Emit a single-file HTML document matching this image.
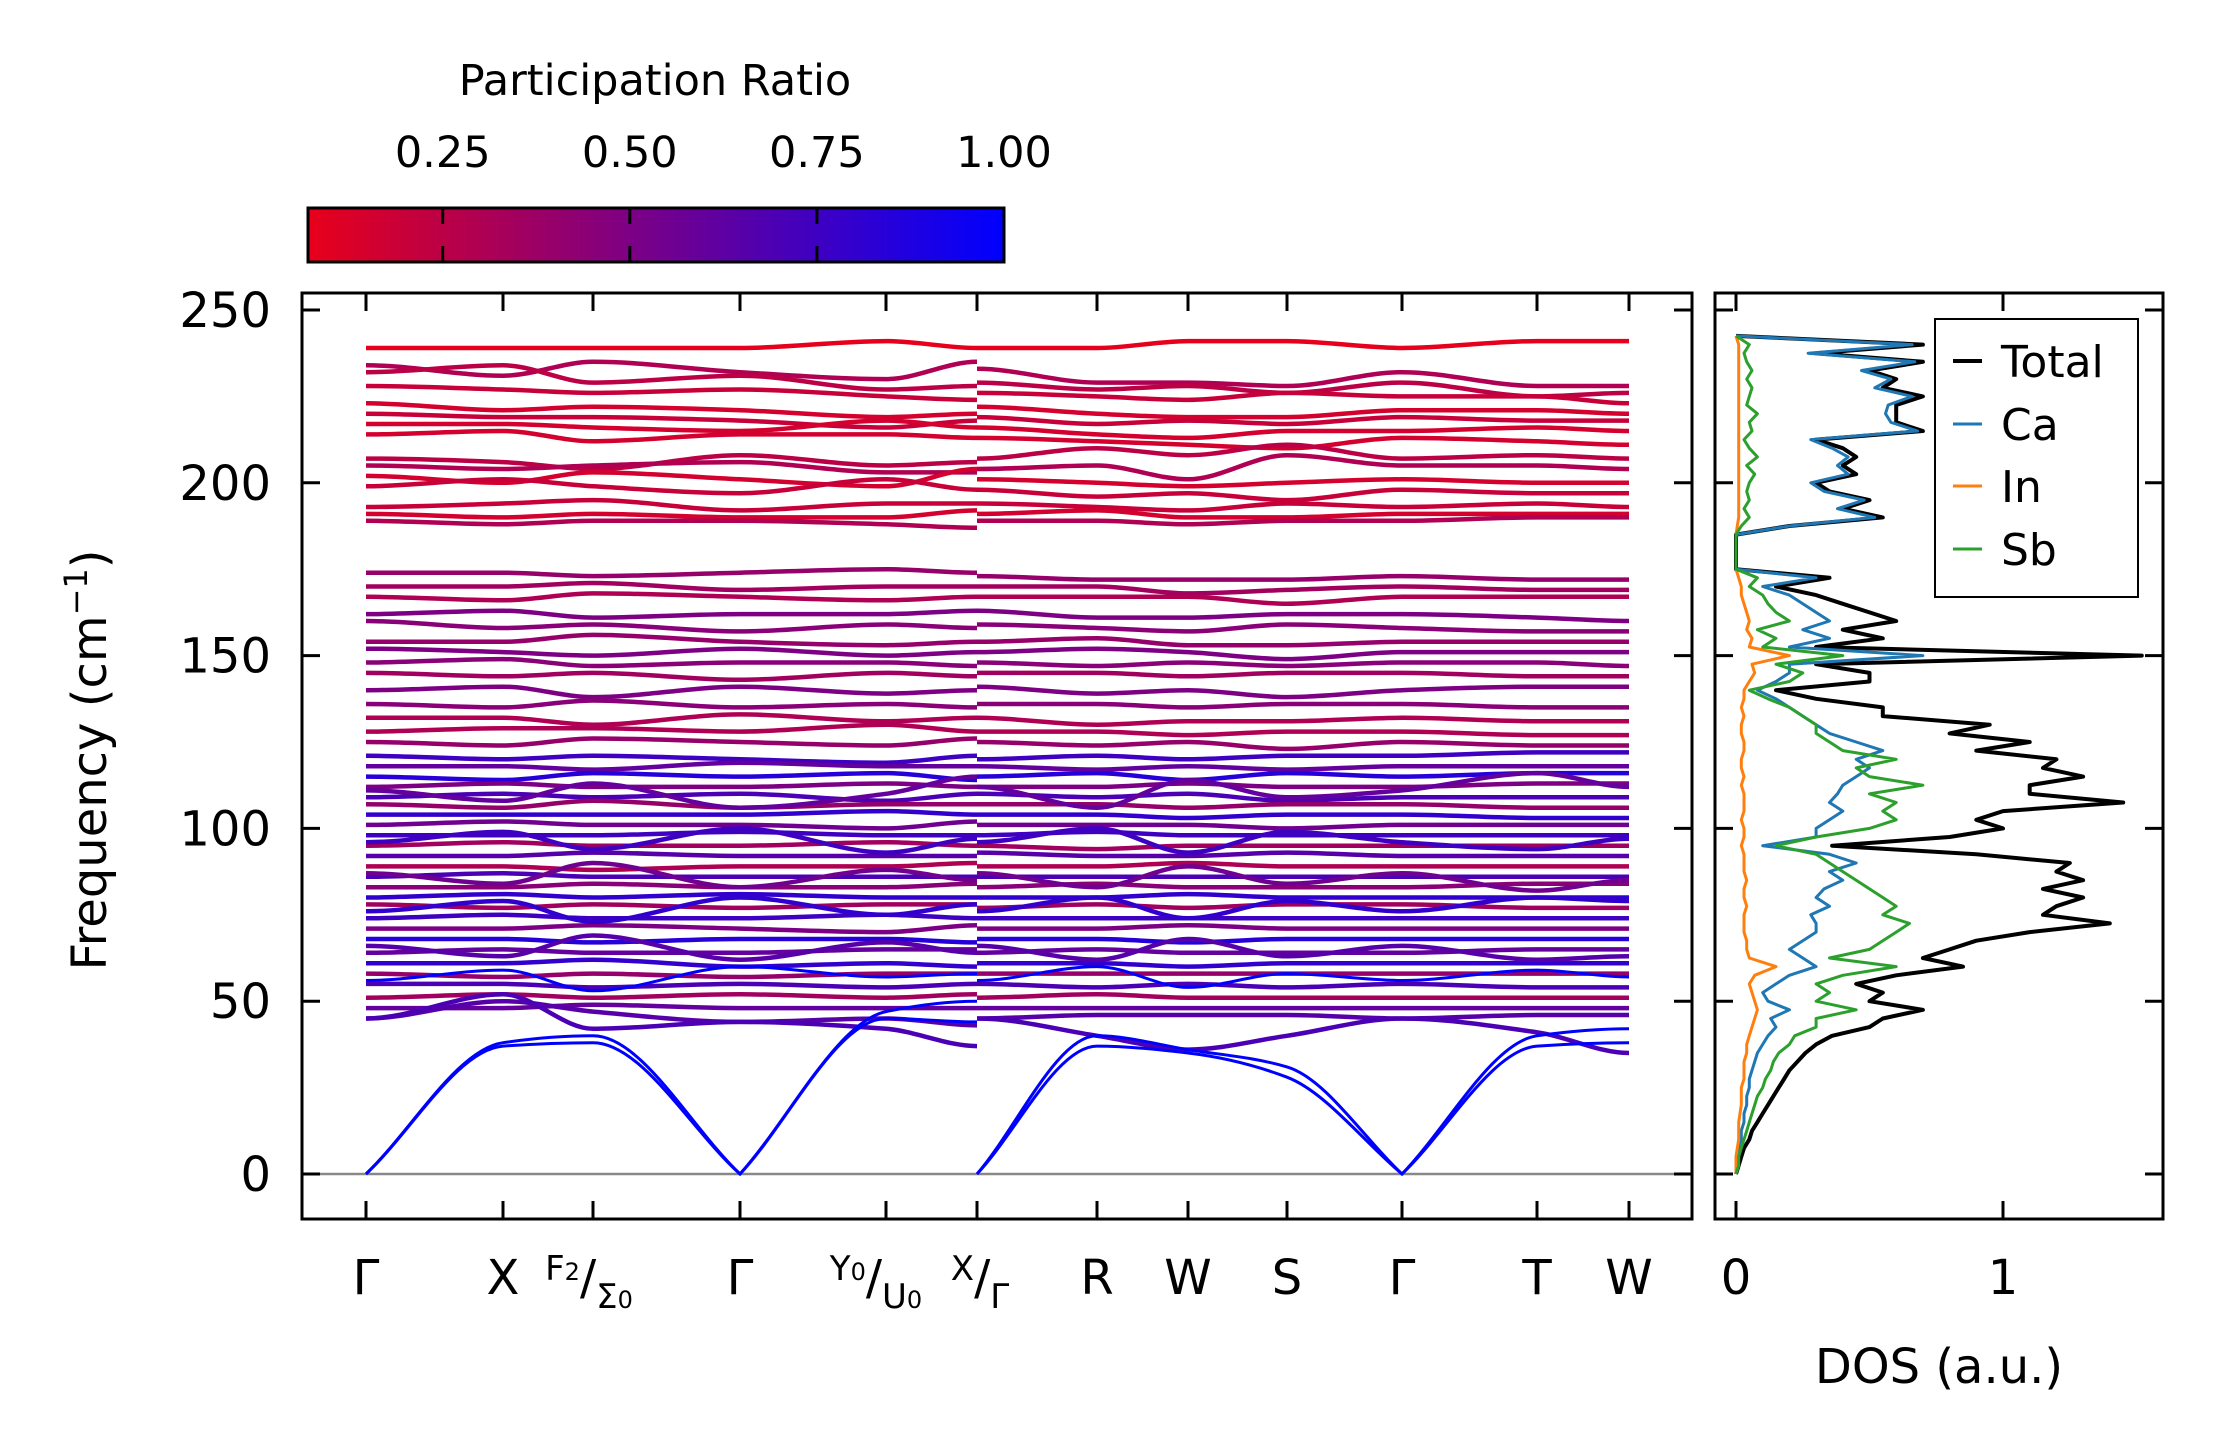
<!DOCTYPE html>
<html><head><meta charset="utf-8"><title>Phonon bands and DOS</title>
<style>
html,body{margin:0;padding:0;background:#fff;}
svg{display:block;font-family:"DejaVu Sans","Liberation Sans",sans-serif;}
</style></head>
<body>
<svg id="chart" width="2222" height="1455" viewBox="0 0 2222 1455" xmlns="http://www.w3.org/2000/svg">
<defs>
<linearGradient id="cbgrad" x1="0" x2="1" y1="0" y2="0">
<stop offset="0" stop-color="rgb(232,0,26)"/>
<stop offset="1" stop-color="rgb(0,0,255)"/>
</linearGradient>
<clipPath id="mainclip"><rect x="302" y="293" width="1390" height="926"/></clipPath>
<clipPath id="dosclip"><rect x="1715" y="293" width="448" height="926"/></clipPath>
</defs>
<g id="colorbar">
<text x="655" y="95" font-size="43" text-anchor="middle">Participation Ratio</text>
<rect x="308" y="208" width="696" height="54" fill="url(#cbgrad)" stroke="#000" stroke-width="3"/>
</g>
<g id="bands" clip-path="url(#mainclip)"></g>
<g id="dos" clip-path="url(#dosclip)"></g>
<g id="axes"></g>
<text transform="translate(106,760) rotate(-90)" font-size="48" text-anchor="middle">Frequency (cm<tspan baseline-shift="super" font-size="32">−1</tspan>)</text>
<text x="1939" y="1383" font-size="48" text-anchor="middle">DOS (a.u.)</text>
<g id="legend">
<rect x="1935" y="319" width="203" height="278" fill="#fff" stroke="#000" stroke-width="2"/>
</g>
</svg>
<script>
const NS="http://www.w3.org/2000/svg";
// ---- data ----
const kLabels=["Γ","X","F2/Σ0","Γ","Y0/U0","X/Γ","R","W","S","Γ","T","W"];
const kPos=[0,137,227,374,520,611,611,731,822,921,1036,1171,1263];
const segments=[[0,5],[6,12]];
const yTicks=[0,50,100,150,200,250];
const cbTicks=[0.25,0.5,0.75,1.0];
const cbTickLabels=["0.25","0.50","0.75","1.00"];
const bandPR=[0.08,0.3,0.25,0.2,0.15,0.2,0.15,0.15,0.25,0.3,0.15,0.2,0.2,0.15,0.3,
0.4,0.35,0.3,0.5,0.45,0.4,0.5,0.45,0.35,0.5,0.45,0.3,0.3,0.4,
0.75,0.6,0.85,0.5,0.7,0.4,0.8,0.55,0.75,0.35,0.65,0.3,0.7,0.45,0.8,0.35,0.75,0.5,0.85,0.6,0.8,0.4,0.7,0.35,0.6,0.65,
0.7,0.6,0.75,0.55,0.8,0.65,
1,1,1];
const bandFreq=[
[239,239,239,239,241,239,239,239,241,241,239,241,241],
[234,231,235,232,230,235,233,229,229,228,232,228,228],
[232,234,229,231,227,228,229,227,228,226,229,225,226],
[228,227,226,227,225,224,226,225,224,226,225,225,223],
[223,221,222,221,219,220,222,220,219,219,221,221,220],
[220,219,219,218,216,218,219,217,218,217,219,218,218],
[217,217,216,215,218,216,216,214,213,215,215,216,215],
[214,215,212,214,214,213,213,212,211,210,213,212,211],
[207,206,204,208,205,206,207,210,208,211,207,208,207],
[205,204,205,206,203,203,204,205,201,208,205,205,204],
[202,200,203,201,199,204,201,200,199,200,201,200,200],
[199,201,199,197,201,198,198,196,197,195,198,197,197],
[193,194,195,192,194,194,194,193,192,194,193,194,193],
[191,190,191,190,190,192,191,192,190,190,191,191,191],
[189,188,189,189,188,187,189,189,188,189,189,190,190],
[174,174,173,174,175,174,173,172,172,172,173,172,172],
[170,170,171,169,170,170,170,170,168,169,170,169,169],
[167,166,168,167,166,167,167,167,167,165,167,167,167],
[162,163,161,162,162,163,163,161,161,162,162,161,160],
[160,158,159,157,159,158,159,158,157,159,158,157,157],
[154,154,156,154,153,154,154,155,153,153,154,154,154],
[152,151,150,152,150,151,151,152,151,149,151,151,151],
[148,149,147,148,148,147,148,147,148,147,148,148,147],
[145,144,145,143,145,144,145,145,144,145,145,144,144],
[140,141,138,141,139,140,141,139,140,138,140,141,141],
[136,135,137,135,136,135,136,136,135,136,136,135,135],
[132,132,130,133,131,132,132,130,131,131,132,131,131],
[128,129,129,128,130,128,128,128,127,128,128,127,127],
[125,124,126,125,124,126,125,124,125,123,125,124,124],
[121,120,121,120,119,121,120,121,120,121,121,122,122],
[118,118,117,119,118,118,118,117,118,117,118,118,118],
[115,114,116,115,116,114,115,116,114,116,115,116,116],
[112,113,112,112,113,112,112,112,113,112,112,113,113],
[109,110,109,110,108,110,110,109,110,108,109,109,109],
[107,106,108,106,107,107,107,107,106,107,107,106,106],
[104,104,104,104,105,104,104,104,103,104,104,103,103],
[101,102,101,101,100,102,101,101,101,100,101,101,101],
[98,98,98,99,98,98,98,99,98,98,98,98,98],
[95,96,95,95,96,95,95,94,95,95,95,95,95],
[92,92,93,92,92,92,93,92,92,93,92,92,92],
[89,89,88,89,89,90,89,89,90,89,89,89,89],
[86,87,86,86,86,86,86,86,86,86,86,86,86],
[83,83,84,83,83,84,83,84,83,83,83,84,84],
[80,81,80,81,80,80,80,80,81,80,80,80,80],
[78,77,78,77,78,78,77,78,77,78,78,77,77],
[74,75,74,74,75,74,74,74,74,74,74,74,74],
[71,71,72,71,70,72,71,71,72,71,71,71,71],
[68,68,67,68,68,67,68,68,67,68,68,68,68],
[64,65,64,64,65,65,64,65,64,64,64,65,65],
[61,61,62,60,61,60,61,61,60,61,61,61,61],
[58,57,58,57,58,58,58,58,58,58,58,58,58],
[55,55,54,55,54,55,55,54,55,54,55,54,54],
[51,52,51,52,51,52,51,52,51,51,51,51,51],
[48,48,49,48,48,48,48,48,48,48,48,48,48],
[45,50,47,44,45,43,45,46,46,46,45,46,46],
[45,52,42,44,42,37,45,40,36,40,45,41,35],
[111,108,113,106,110,115,112,106,114,109,111,116,112],
[96,99,94,100,93,97,96,100,93,99,96,94,97],
[87,84,90,83,88,85,87,83,89,84,87,82,85],
[76,79,73,80,75,78,76,80,74,79,76,80,79],
[66,63,69,62,67,64,66,62,68,63,66,62,63],
[56,59,53,60,57,58,56,60,54,58,56,59,57],
[0,38,40,0,47,50,0,40,36,31,0,40,42],
[0,37,38,0,45,44,0,37,35,28,0,37,38],
[0,37,37,0,43,46,0,35,36,30,0,38,40]
];
// DOS: frequency grid 0..242.5 step 2.5
const dosFreqStep=2.5;
const dosTotal=[0,0.01,0.02,0.03,0.05,0.06,0.08,0.1,0.12,0.14,0.16,0.18,0.2,0.23,0.26,0.3,0.36,0.5,0.55,0.7,
0.5,0.55,0.45,0.6,0.85,0.7,0.8,0.9,1.1,1.4,1.15,1.2,1.3,1.15,1.3,1.2,1.25,0.9,0.36,0.8,
1.0,0.9,1.0,1.45,1.1,1.1,1.3,1.15,1.2,0.9,1.1,0.8,0.95,0.55,0.55,0.3,0.15,0.5,0.5,0.3,
1.52,0.3,0.55,0.4,0.6,0.5,0.4,0.3,0.15,0.35,0,0,0,0,0,0.2,0.55,0.4,0.5,0.35,
0.3,0.45,0.4,0.45,0.4,0.3,0.7,0.6,0.6,0.6,0.7,0.55,0.6,0.5,0.7,0.3,0.7,0];
const dosCa=[0,0,0.01,0.01,0.02,0.02,0.03,0.03,0.04,0.04,0.05,0.05,0.06,0.07,0.08,0.1,0.12,0.15,0.13,0.2,
0.12,0.1,0.15,0.2,0.3,0.25,0.2,0.25,0.3,0.3,0.28,0.35,0.3,0.33,0.4,0.35,0.45,0.35,0.1,0.3,
0.3,0.35,0.4,0.35,0.38,0.4,0.45,0.5,0.45,0.55,0.45,0.35,0.3,0.25,0.2,0.15,0.08,0.15,0.2,0.2,
0.7,0.2,0.35,0.25,0.35,0.3,0.25,0.2,0.1,0.3,0,0,0,0,0,0.2,0.52,0.38,0.48,0.33,
0.28,0.42,0.38,0.42,0.36,0.28,0.68,0.58,0.56,0.57,0.66,0.52,0.58,0.47,0.67,0.27,0.66,0];
const dosIn=[0,0,0,0.005,0.01,0.01,0.01,0.015,0.02,0.02,0.02,0.03,0.03,0.03,0.04,0.04,0.05,0.06,0.07,0.08,
0.07,0.06,0.05,0.07,0.15,0.05,0.04,0.04,0.03,0.03,0.03,0.04,0.03,0.03,0.04,0.03,0.03,0.03,0.02,0.03,
0.03,0.02,0.03,0.03,0.03,0.02,0.03,0.02,0.02,0.03,0.03,0.02,0.02,0.03,0.02,0.03,0.03,0.05,0.07,0.06,
0.2,0.05,0.06,0.04,0.05,0.04,0.03,0.02,0.02,0.01,0,0,0,0,0,0.005,0.01,0.01,0.01,0.01,
0.01,0.01,0.01,0.01,0.01,0.01,0.01,0.01,0.01,0.01,0.01,0.01,0.01,0.01,0.01,0.01,0.01,0];
const dosSb=[0,0.01,0.01,0.02,0.03,0.04,0.05,0.06,0.07,0.08,0.1,0.11,0.13,0.14,0.16,0.2,0.22,0.3,0.3,0.45,
0.3,0.35,0.3,0.4,0.6,0.35,0.5,0.55,0.6,0.65,0.55,0.6,0.55,0.5,0.45,0.4,0.35,0.3,0.15,0.3,
0.5,0.6,0.55,0.6,0.5,0.7,0.5,0.45,0.6,0.4,0.35,0.3,0.3,0.25,0.2,0.12,0.05,0.2,0.25,0.15,
0.4,0.1,0.15,0.08,0.2,0.15,0.12,0.1,0.05,0.08,0,0,0,0,0,0.02,0.05,0.03,0.05,0.04,
0.05,0.07,0.04,0.08,0.05,0.03,0.06,0.05,0.08,0.04,0.05,0.06,0.04,0.06,0.04,0.03,0.05,0];
const dosTicks=[0,1];
// ---- scales ----
const X0=366,X1=1629;
const kx=k=>X0+(k/kPos[kPos.length-1])*(X1-X0);
const fy=f=>1174-f*(864/250);
const dx=v=>1736+v*267;
const cbx=v=>308+(v-0.07)/(1-0.07)*696;
function prColor(p){const t=Math.max(0,Math.min(1,(p-0.07)/0.93));
return `rgb(${Math.round(232*(1-t))},0,${Math.round(26+229*t)})`;}
function el(tag,attrs,parent){const e=document.createElementNS(NS,tag);for(const k in attrs)e.setAttribute(k,attrs[k]);parent.appendChild(e);return e;}
// monotone cubic path with cusps at zero-frequency nodes
function monoPath(xs,vals){const ys=vals.map(fy);const n=xs.length;const d=[];
for(let i=0;i<n-1;i++)d.push((ys[i+1]-ys[i])/(xs[i+1]-xs[i]));
const mIn=[],mOut=[];
for(let i=0;i<n;i++){let m;
 if(i==0||i==n-1)m=0;else m=d[i-1]*d[i]<=0?0:2/(1/d[i-1]+1/d[i]);
 mIn.push(m);mOut.push(m);
 if(vals[i]===0){if(i<n-1)mOut[i]=d[i];if(i>0)mIn[i]=d[i-1];}
}
let p=`M${xs[0].toFixed(1)},${ys[0].toFixed(1)}`;
for(let i=0;i<n-1;i++){const h=xs[i+1]-xs[i];
p+=`C${(xs[i]+h/3).toFixed(1)},${(ys[i]+mOut[i]*h/3).toFixed(1)} ${(xs[i+1]-h/3).toFixed(1)},${(ys[i+1]-mIn[i+1]*h/3).toFixed(1)} ${xs[i+1].toFixed(1)},${ys[i+1].toFixed(1)}`;}
return p;}
// ---- zero line ----
const bandsG=document.getElementById('bands');
const zl=el('line',{x1:302,x2:1692,y1:fy(0),y2:fy(0),stroke:'#888','stroke-width':2.5},bandsG);


// ---- bands ----
bandFreq.forEach((b,bi)=>{
 const col=prColor(bandPR[bi]);
 segments.forEach(([a,c])=>{
  const xs=[],vs=[];
  for(let i=a;i<=c;i++){xs.push(kx(kPos[i]));vs.push(b[i]);}
  const p=el('path',{d:monoPath(xs,vs),fill:'none',stroke:col,'stroke-width':bandPR[bi]>=1?3:4.5},bandsG);
  
  
 });
});
// ---- DOS ----
const dosG=document.getElementById('dos');
function dosLine(arr,color,w,name){const pts=arr.map((v,i)=>`${dx(v).toFixed(1)},${fy(i*dosFreqStep).toFixed(1)}`).join(' ');
 const l=el('polyline',{points:pts,fill:'none',stroke:color,'stroke-width':w,'stroke-linejoin':'round'},dosG);
 
 }
dosLine(dosTotal,'#000',4,'dos-total-line');
dosLine(dosCa,'#1f77b4',3,'dos-ca-line');
dosLine(dosIn,'#ff7f0e',3,'dos-in-line');
dosLine(dosSb,'#2ca02c',3,'dos-sb-line');
// ---- axes ----
const ax=document.getElementById('axes');
const frame1=el('rect',{x:302,y:293,width:1390,height:926,fill:'none',stroke:'#000','stroke-width':3},ax);


const frame2=el('rect',{x:1715,y:293,width:448,height:926,fill:'none',stroke:'#000','stroke-width':3},ax);


const TL=18;
yTicks.forEach(v=>{const y=fy(v);
 [[302,302+TL],[1692,1692-TL],[1715,1715+TL],[2163,2163-TL]].forEach(([a,b])=>{const t=el('line',{x1:a,x2:b,y1:y,y2:y,stroke:'#000','stroke-width':3},ax);
 
 });
 const tx=el('text',{x:271,y:y+17,'font-size':48,'text-anchor':'end'},ax);tx.textContent=v;
 
 
});
const uniq=[...new Set(kPos)];
uniq.forEach(k=>{const x=kx(k);
 [[1219,1219-TL],[293,293+TL]].forEach(([a,b])=>{const t=el('line',{x1:x,x2:x,y1:a,y2:b,stroke:'#000','stroke-width':3},ax);
 
 });
});
const LY=1294;
kLabels.forEach((lab,i)=>{const x=kx(uniq[i]);
 const t=el('text',{x:x,y:LY,'font-size':48,'text-anchor':'middle'},ax);
 
 
 if(lab==="F2/Σ0"){t.setAttribute('font-size',34);t.innerHTML='<tspan dy="-14">F</tspan><tspan font-size="24">2</tspan><tspan font-size="48" dy="14">/</tspan><tspan font-size="34" dy="14">Σ</tspan><tspan font-size="24">0</tspan>';t.setAttribute('x',x-4);}
 else if(lab==="Y0/U0"){t.setAttribute('font-size',34);t.innerHTML='<tspan dy="-14">Y</tspan><tspan font-size="24">0</tspan><tspan font-size="48" dy="14">/</tspan><tspan font-size="34" dy="14">U</tspan><tspan font-size="24">0</tspan>';t.setAttribute('x',x-10);}
 else if(lab==="X/Γ"){t.setAttribute('font-size',34);t.innerHTML='<tspan dy="-14">X</tspan><tspan font-size="48" dy="14">/</tspan><tspan font-size="34" dy="14">Γ</tspan>';t.setAttribute('x',x+3);}
 else t.textContent=lab;
});
dosTicks.forEach(v=>{const x=dx(v);
 [[1219,1219-TL],[293,293+TL]].forEach(([a,b])=>{const t=el('line',{x1:x,x2:x,y1:a,y2:b,stroke:'#000','stroke-width':3},ax);
 
 });
 const tx=el('text',{x:x,y:LY,'font-size':48,'text-anchor':'middle'},ax);tx.textContent=v;
 
 
});
// colorbar ticks
const cb=document.getElementById('colorbar');
cbTicks.forEach((v,i)=>{const x=cbx(v);
 if(v<1){[[208,224],[262,246]].forEach(([a,b])=>{const t=el('line',{x1:x,x2:x,y1:a,y2:b,stroke:'#000','stroke-width':3},cb);
 
 });}
 const tx=el('text',{x:x,y:167,'font-size':43,'text-anchor':'middle'},cb);tx.textContent=cbTickLabels[i];
 
 
});
// legend
const lg=document.getElementById('legend');
[["Total","#000",361],["Ca","#1f77b4",424],["In","#ff7f0e",486],["Sb","#2ca02c",549]].forEach(([n,c,y])=>{
 const l=el('line',{x1:1953,x2:1982,y1:y,y2:y,stroke:c,'stroke-width':n==="Total"?4:3},lg);
 
 
 const t=el('text',{x:2001,y:y+16,'font-size':44},lg);t.textContent=n;
 
 
});
</script>
</body></html>
